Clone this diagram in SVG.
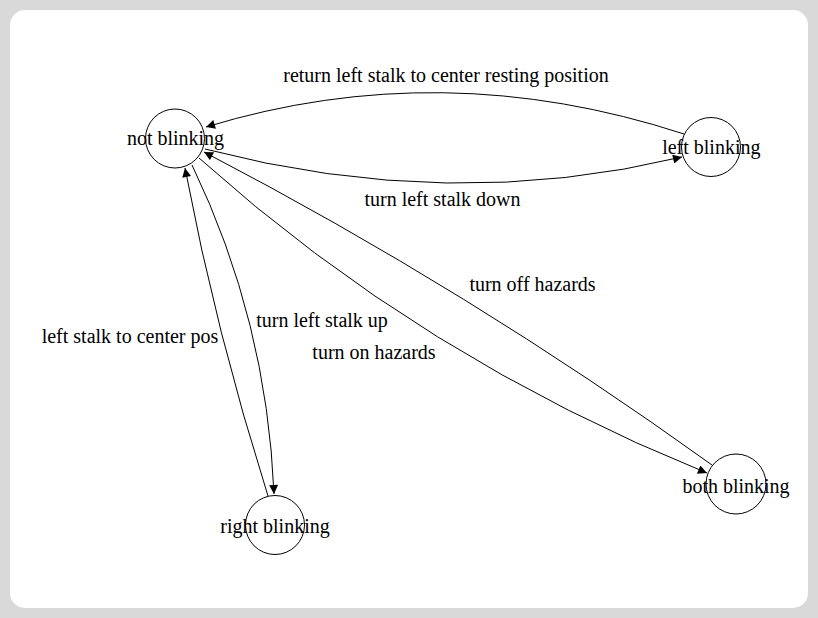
<svg xmlns="http://www.w3.org/2000/svg" width="818" height="618" viewBox="0 0 818 618">
<style>
.node circle{fill:#fff;stroke:#000;stroke-width:1}
text{font-family:"Liberation Serif","Times New Roman",serif;font-size:20px;fill:#000;text-anchor:middle}
.edge{fill:none;stroke:#000;stroke-width:1;marker-end:url(#arrow)}
</style>
<defs>
<marker id="arrow" viewBox="0 0 10 10" refX="10" refY="5" markerWidth="11" markerHeight="9" markerUnits="userSpaceOnUse" orient="auto">
<path d="M0,0 L10,5 L0,10 z" fill="#000"/>
</marker>
</defs>
<rect x="0" y="0" width="818" height="618" fill="#d9d9d9"/>
<rect x="10" y="10" width="798" height="598" rx="15" ry="15" fill="#fff"/>
<g id="connectors">
<path class="edge" d="M684,134 Q442,55 206,127"/>
<path class="edge" d="M205,149 Q450,213 682,157"/>
<path class="edge" d="M712,465 Q469,290 204,152"/>
<path class="edge" d="M199,158 Q422,358 707,473"/>
<path class="edge" d="M192,165 Q267,321 274,494"/>
<path class="edge" d="M268,496 Q216,332 185,168"/>
</g>
<g id="edge-labels">
<text x="446" y="82">return left stalk to center resting position</text>
<text x="442.5" y="206">turn left stalk down</text>
<text x="532.5" y="291">turn off hazards</text>
<text x="374" y="358.5">turn on hazards</text>
<text x="322" y="327">turn left stalk up</text>
<text x="130" y="342.5">left stalk to center pos</text>
</g>
<g id="node-not-blinking" class="node">
<circle cx="175" cy="138.5" r="29.5"/>
<text x="175.5" y="145">not blinking</text>
</g>
<g id="node-left-blinking" class="node">
<circle cx="711" cy="147" r="29.5"/>
<text x="711.3" y="154">left blinking</text>
</g>
<g id="node-right-blinking" class="node">
<circle cx="275" cy="525" r="29.5"/>
<text x="275" y="533">right blinking</text>
</g>
<g id="node-both-blinking" class="node">
<circle cx="736" cy="484" r="30"/>
<text x="736" y="493">both blinking</text>
</g>
</svg>
